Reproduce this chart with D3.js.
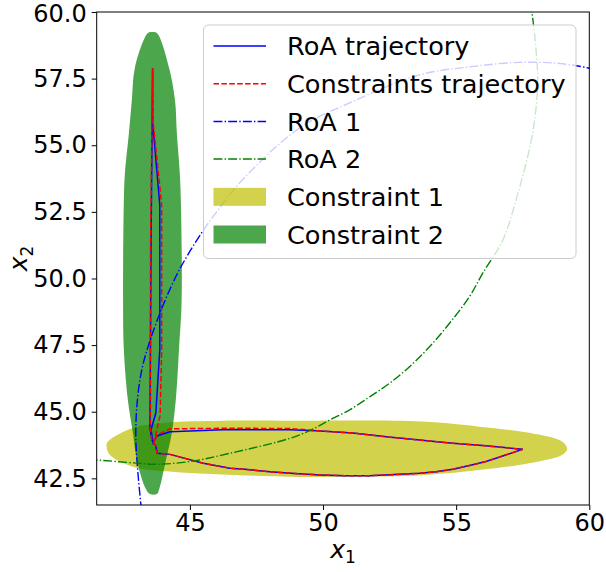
<!DOCTYPE html>
<html>
<head>
<meta charset="utf-8">
<script src="https://cdn.jsdelivr.net/npm/d3@7"></script>
<style>
  body { margin: 0; background: #fff; }
  text { font-family: "DejaVu Sans", sans-serif; }
</style>
</head>
<body>
<svg id="chart" width="606" height="572"></svg>
<script>
// axis ticks
var xTicks = [45, 50, 55, 60];
var yTicks = [42.5, 45.0, 47.5, 50.0, 52.5, 55.0, 57.5, 60.0];

// Constraint 1 (yellow region), outline points [x1, x2]
var constraint1 = [[41.87, 43.69], [41.92, 43.88], [42.86, 44.39], [43.99, 44.58], [46.24, 44.66],
    [48.75, 44.66], [53.73, 44.63], [55.87, 44.44], [57.74, 44.21], [58.98, 43.88], [59.17, 43.60],
    [58.98, 43.38], [57.74, 43.07], [55.87, 42.81], [53.73, 42.62], [50.89, 42.56], [48.75, 42.56],
    [44.36, 42.75], [42.86, 42.94], [42.0, 43.38]];

// Constraint 2 (green region)
var constraint2 = [[43.42, 59.21], [43.57, 59.25], [43.76, 59.21], [44.21, 57.94], [44.44, 56.70],
    [44.51, 55.46], [44.62, 53.96], [44.66, 52.95], [44.69, 49.19], [44.59, 47.32], [44.47, 45.44],
    [44.32, 44.20], [44.10, 43.19], [43.87, 42.18], [43.76, 41.91], [43.50, 41.91], [43.31, 42.18],
    [43.01, 43.19], [42.86, 44.20], [42.67, 45.44], [42.52, 47.32], [42.49, 49.19], [42.52, 52.95],
    [42.56, 53.96], [42.71, 55.46], [42.82, 56.70], [42.94, 57.94]];

// RoA level curves
var roa1 = [[43.18, 41.31], [42.97, 43.94], [43.04, 45.56], [43.22, 46.69], [43.47, 47.57],
    [43.97, 48.94], [44.60, 50.32], [45.47, 51.76], [45.97, 52.45], [46.97, 53.70], [49.12, 55.65],
    [51.0, 56.59], [53.62, 57.64], [55.50, 57.94], [57.37, 58.11], [58.87, 58.07], [59.96, 57.90],
    [60.37, 57.79]];

var roa2 = [[41.2, 43.20], [41.5, 43.19], [43.0, 43.07], [43.75, 43.03], [45.0, 43.13], [46.5, 43.44],
    [48.75, 44.00], [49.56, 44.32], [50.25, 44.69], [51.0, 45.07], [51.75, 45.56], [52.50, 46.07],
    [53.25, 46.69], [54.0, 47.44], [54.75, 48.32], [55.50, 49.32], [56.0, 50.20], [56.75, 51.44],
    [57.25, 52.95], [57.87, 55.45], [58.06, 57.32], [58.0, 58.57], [57.85, 59.97], [57.78, 60.45]];

// trajectories
var roaTrajectory = [[43.60, 57.89], [43.60, 55.88], [43.87, 52.76], [43.87, 47.32], [43.72, 44.95],
    [43.54, 44.32], [43.62, 43.83], [43.76, 44.09], [44.25, 44.25], [46.50, 44.33], [48.75, 44.32],
    [49.75, 44.29], [51.12, 44.20], [52.37, 44.06], [53.62, 43.94], [54.87, 43.82], [56.12, 43.72],
    [57.50, 43.59], [56.75, 43.34], [56.12, 43.13], [55.50, 42.98], [54.87, 42.84], [54.25, 42.75],
    [53.62, 42.69], [52.68, 42.64], [51.75, 42.60], [50.81, 42.60], [49.87, 42.63], [48.94, 42.68],
    [48.0, 42.75], [47.06, 42.84], [46.50, 42.88], [45.50, 43.07], [44.25, 43.40], [43.77, 43.44],
    [43.72, 43.71], [43.57, 43.94], [43.50, 44.39], [43.54, 51.07], [43.60, 57.89]];

var constraintsTrajectory = [[43.60, 57.89], [43.62, 55.88], [43.94, 52.76], [43.94, 47.32],
    [43.88, 44.85], [43.72, 44.15], [43.64, 43.83], [43.76, 44.12], [44.25, 44.36], [46.50, 44.38],
    [48.75, 44.37], [49.75, 44.29], [51.12, 44.20], [52.37, 44.06], [53.62, 43.94], [54.87, 43.82],
    [56.12, 43.72], [57.50, 43.59], [56.75, 43.34], [56.12, 43.13], [55.50, 42.98], [54.87, 42.84],
    [54.25, 42.75], [53.62, 42.69], [52.68, 42.64], [51.75, 42.60], [50.81, 42.60], [49.87, 42.63],
    [48.94, 42.68], [48.0, 42.75], [47.06, 42.84], [46.50, 42.88], [45.50, 43.07], [44.25, 43.40],
    [43.77, 43.44], [43.72, 43.71], [43.57, 43.94], [43.52, 44.39], [43.52, 51.07], [43.60, 57.89]];

var legendLabels = ["RoA trajectory", "Constraints trajectory", "RoA 1", "RoA 2", "Constraint 1", "Constraint 2"];

var svg = d3.select("#chart"),
    plotLeft = 96.7, plotRight = 589.3, plotTop = 12, plotBottom = 505;

var x = d3.scaleLinear().domain([41.5, 60]).range([plotLeft, plotRight]);
var y = d3.scaleLinear().domain([41.5, 60]).range([plotBottom, plotTop]);

svg.append("clipPath").attr("id", "clip")
    .append("rect")
    .attr("x", plotLeft).attr("y", plotTop)
    .attr("width", plotRight - plotLeft).attr("height", plotBottom - plotTop);

var plot = svg.append("g").attr("clip-path", "url(#clip)");

var area = d3.line()
    .x(function (d) { return x(d[0]); })
    .y(function (d) { return y(d[1]); })
    .curve(d3.curveCatmullRomClosed.alpha(0.5));

var smooth = d3.line()
    .x(function (d) { return x(d[0]); })
    .y(function (d) { return y(d[1]); })
    .curve(d3.curveCatmullRom.alpha(0.5));

var straight = d3.line()
    .x(function (d) { return x(d[0]); })
    .y(function (d) { return y(d[1]); });

plot.append("path").attr("d", area(constraint1))
    .style("fill", "#bfbf00").style("fill-opacity", 0.7);
plot.append("path").attr("d", area(constraint2))
    .style("fill", "#008000").style("fill-opacity", 0.7);

var dashDot = "8.9,2.2,1.4,2.2";

plot.append("path").attr("d", straight(roaTrajectory))
    .style("fill", "none").style("stroke", "#0000ff").style("stroke-width", 1.5);
plot.append("path").attr("d", straight(constraintsTrajectory))
    .style("fill", "none").style("stroke", "#ff0000").style("stroke-width", 1.5)
    .style("stroke-dasharray", "5.5,2.4");
plot.append("path").attr("d", smooth(roa1))
    .style("fill", "none").style("stroke", "#0000ff").style("stroke-width", 1.4)
    .style("stroke-dasharray", dashDot);
plot.append("path").attr("d", smooth(roa2))
    .style("fill", "none").style("stroke", "#008000").style("stroke-width", 1.4)
    .style("stroke-dasharray", dashDot);

// axes
var xAxis = svg.append("g")
    .attr("transform", "translate(0," + plotBottom + ")")
    .call(d3.axisBottom(x).tickValues(xTicks).tickFormat(d3.format("d")).tickSize(5).tickPadding(4));
var yAxis = svg.append("g")
    .attr("transform", "translate(" + plotLeft + ",0)")
    .call(d3.axisLeft(y).tickValues(yTicks).tickFormat(d3.format(".1f")).tickSize(5).tickPadding(5));

[xAxis, yAxis].forEach(function (a) {
    a.select(".domain").remove();
    a.selectAll("line").style("stroke", "#000").style("stroke-width", 1);
    a.selectAll("text").style("font-size", "24px").style("fill", "#000")
        .style("font-family", "DejaVu Sans");
});
// keep the top label inside the picture
yAxis.selectAll(".tick text").attr("dy", function (d) { return d === 60 ? "0.38em" : "0.32em"; });

svg.append("rect")
    .attr("x", plotLeft).attr("y", plotTop)
    .attr("width", plotRight - plotLeft).attr("height", plotBottom - plotTop)
    .style("fill", "none").style("stroke", "#000").style("stroke-width", 1);

// axis labels
var xl = svg.append("text")
    .attr("x", (plotLeft + plotRight) / 2).attr("y", 558)
    .attr("text-anchor", "middle").style("font-size", "25px");
xl.append("tspan").style("font-style", "italic").text("x");
xl.append("tspan").attr("dy", 5).style("font-size", "17px").text("1");

var yl = svg.append("text")
    .attr("transform", "translate(27," + ((plotTop + plotBottom) / 2) + ") rotate(-90)")
    .attr("text-anchor", "middle").style("font-size", "25px");
yl.append("tspan").style("font-style", "italic").text("x");
yl.append("tspan").attr("dy", 6).style("font-size", "17px").text("2");

// legend
var legend = svg.append("g");
legend.append("rect")
    .attr("x", 203.5).attr("y", 25).attr("width", 372.5).attr("height", 233.5)
    .attr("rx", 5).attr("ry", 5)
    .style("fill", "#fff").style("fill-opacity", 0.8)
    .style("stroke", "#cccccc").style("stroke-width", 1);

var rowY = function (i) { return 46 + i * 37.7; };
var handles = [
    {type: "line", color: "#0000ff", dash: null},
    {type: "line", color: "#ff0000", dash: "5.5,2.4"},
    {type: "line", color: "#0000ff", dash: dashDot},
    {type: "line", color: "#008000", dash: dashDot},
    {type: "patch", color: "#bfbf00"},
    {type: "patch", color: "#008000"}
];

legendLabels.forEach(function (label, i) {
    var h = handles[i], cy = rowY(i);
    if (h.type === "line") {
        legend.append("line")
            .attr("x1", 213.5).attr("x2", 266).attr("y1", cy).attr("y2", cy)
            .style("stroke", h.color).style("stroke-width", 1.5)
            .style("stroke-dasharray", h.dash);
    } else {
        legend.append("rect")
            .attr("x", 213.5).attr("y", cy - 9).attr("width", 52.5).attr("height", 18)
            .style("fill", h.color).style("fill-opacity", 0.7);
    }
    legend.append("text")
        .attr("x", 287).attr("y", cy).attr("dy", "0.36em")
        .style("font-size", "25.6px").style("fill", "#000")
        .text(label);
});
</script>
</body>
</html>
